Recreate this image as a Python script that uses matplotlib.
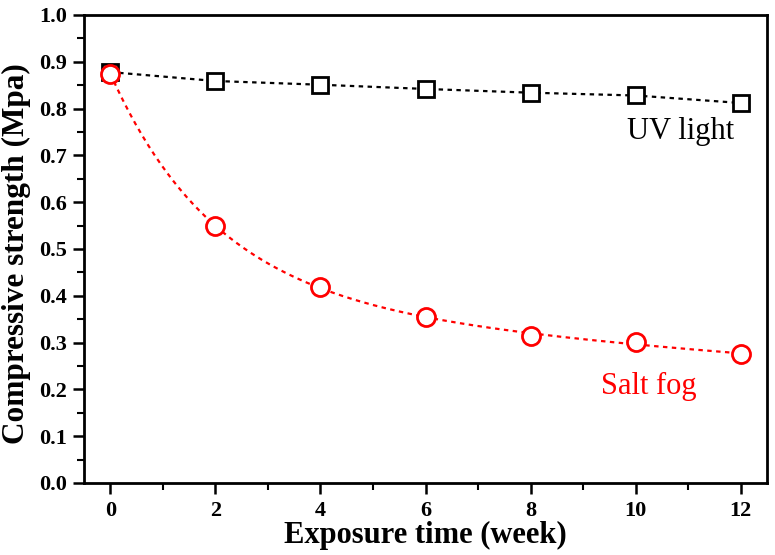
import numpy as np
import matplotlib
matplotlib.use("Agg")
import matplotlib.pyplot as plt
from matplotlib.ticker import MultipleLocator

weeks = [0, 2, 4, 6, 8, 10, 12]
uv_light = [0.878, 0.859, 0.851, 0.842, 0.834, 0.828, 0.812]
salt_fog = [0.875, 0.549, 0.418, 0.355, 0.315, 0.302, 0.275]
x_ticks = [0, 2, 4, 6, 8, 10, 12]
y_ticks = [0.0, 0.1, 0.2, 0.3, 0.4, 0.5, 0.6, 0.7, 0.8, 0.9, 1.0]

plt.rcParams['font.family'] = ['Liberation Serif', 'DejaVu Serif']

fig = plt.figure(figsize=(7.75, 5.55), dpi=100)
ax = fig.add_axes([84/775, 1-483/555, (767-84)/775, (483-15)/555])

# double exponential decay fit for salt fog: y = y0 + A1*exp(-x/t1) + A2*exp(-x/t2)
xw = np.array(weeks, float)
ys = np.array(salt_fog, float)
best = None
for t1 in np.linspace(0.5, 5, 46):
    for t2 in np.linspace(5, 60, 56):
        M = np.column_stack([np.ones_like(xw), np.exp(-xw / t1), np.exp(-xw / t2)])
        coef, *_ = np.linalg.lstsq(M, ys, rcond=None)
        err = np.sum((M @ coef - ys) ** 2)
        if best is None or err < best[0]:
            best = (err, t1, t2, coef)
_, t1b, t2b, cb = best
xs = np.linspace(0, 12, 300)
fit = cb[0] + cb[1] * np.exp(-xs / t1b) + cb[2] * np.exp(-xs / t2b)
ax.plot(xs, fit, color='#ff0000', lw=1.6, linestyle=(0, (2, 2)), zorder=2)
ax.plot(weeks, uv_light, color='black', lw=1.6, linestyle=(0, (2, 2)), zorder=2)

ax.plot(weeks, uv_light, linestyle='none', marker='s', ms=11.5, mfc='white',
        mec='black', mew=2, zorder=3)
ax.plot(weeks, salt_fog, linestyle='none', marker='o', ms=13, mfc='white',
        mec='#ff0000', mew=2, zorder=4)

ax.set_xlim(-0.5, 12.5)
ax.set_ylim(0, 1.0)
ax.set_xticks(x_ticks)
ax.set_yticks(y_ticks)
ax.set_yticklabels([f"{v:.1f}" for v in y_ticks])
ax.xaxis.set_minor_locator(MultipleLocator(1))
ax.yaxis.set_minor_locator(MultipleLocator(0.05))
ax.tick_params(which='major', direction='out', length=8, width=1.8,
               labelsize=16, pad=4)
ax.tick_params(which='minor', direction='out', length=5, width=1.5)
ax.tick_params(axis='x', which='major', pad=5)
for lab in ax.get_xticklabels() + ax.get_yticklabels():
    lab.set_fontweight('bold')
for s in ax.spines.values():
    s.set_linewidth(2)

ax.set_xlabel('Exposure time (week)', fontsize=22, fontweight='bold', labelpad=0)
ax.set_ylabel('Compressive strength (Mpa)', fontsize=22.5, fontweight='bold')
ax.yaxis.set_label_coords(-0.078, 0.49)

ax.text(10.85, 0.752, 'UV light', fontsize=22, color='black', ha='center', va='center')
ax.text(10.25, 0.206, 'Salt fog', fontsize=22, color='#ff0000', ha='center', va='center')

fig.savefig('out.png', dpi=100)
